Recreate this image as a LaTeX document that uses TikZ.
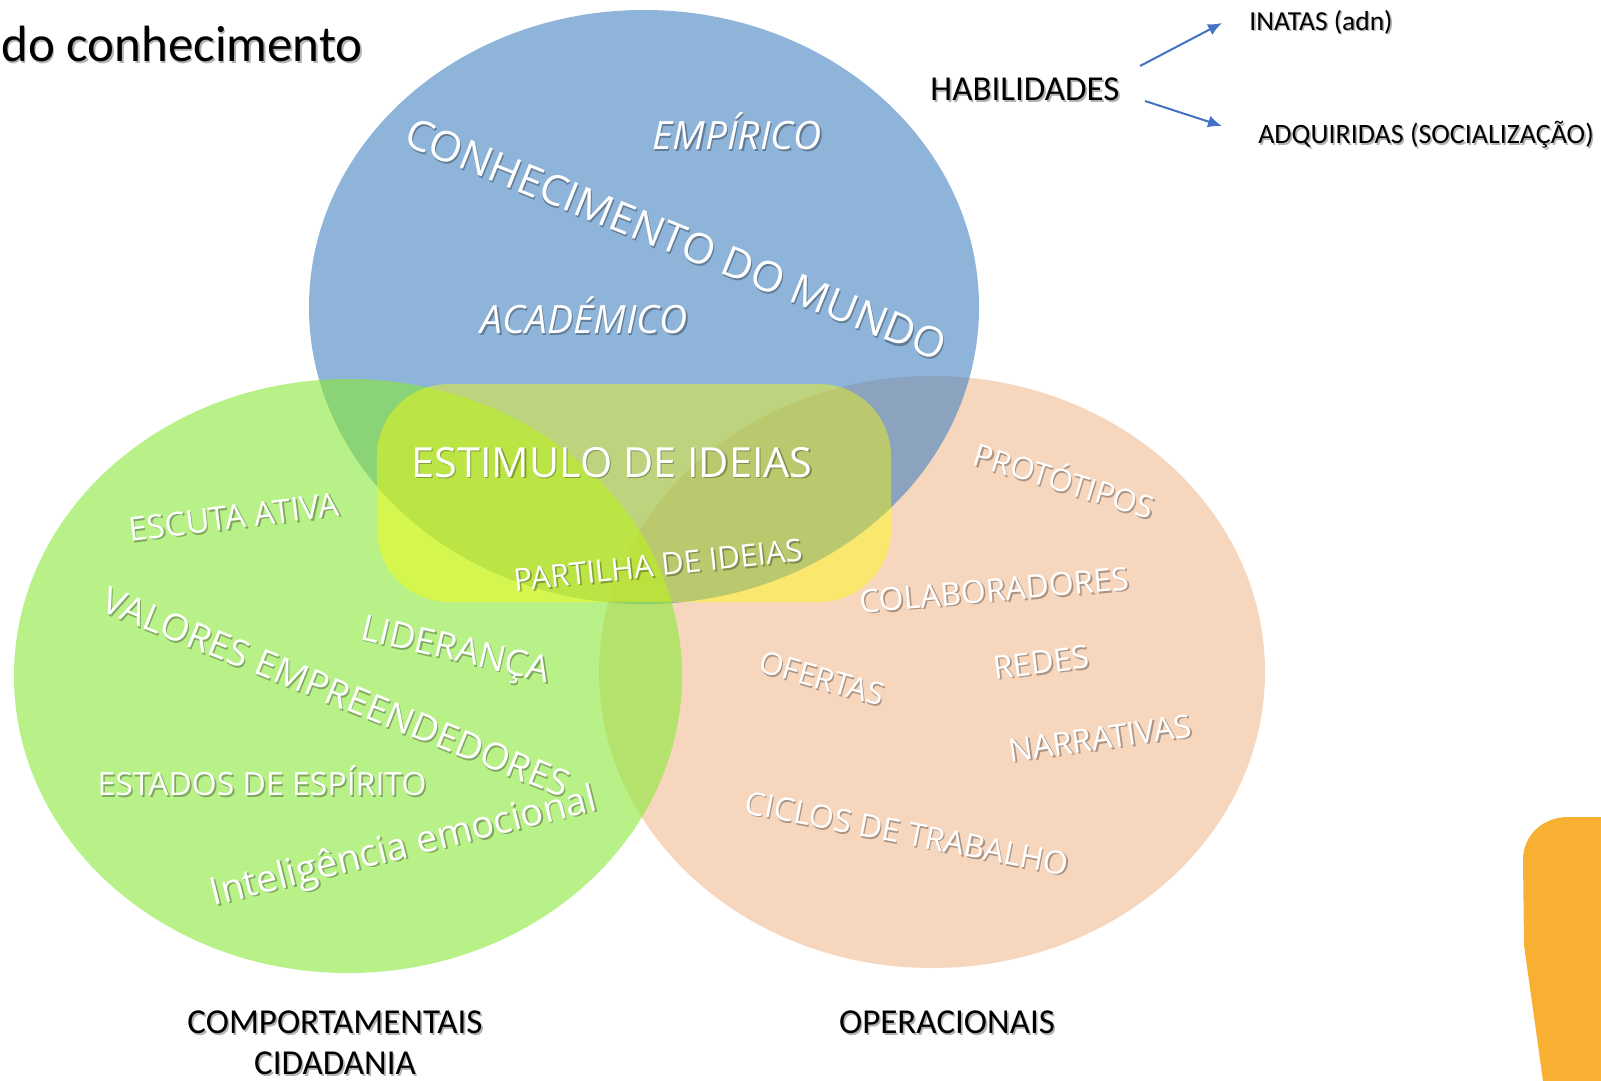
\documentclass[tikz,border=0pt]{standalone}
\usepackage{fontspec}
\setmainfont{Carlito}
\newfontfamily\osans{Open Sans}
\usetikzlibrary{arrows.meta}
\definecolor{cblue}{RGB}{68,130,192}
\definecolor{cgreen}{RGB}{138,233,55}
\definecolor{corange}{RGB}{243,187,147}
\definecolor{cyel}{RGB}{255,255,0}
\definecolor{carrow}{RGB}{68,114,196}
\definecolor{cgold}{RGB}{247,176,49}
\newcommand\fs[1]{\fontsize{#1}{#1}\selectfont}
% text with a soft drop shadow, inside one node
\newcommand\sh[1]{\rlap{\kern1.6pt\raisebox{-1.6pt}{\pgfsetfillopacity{0.3}\color{black}#1\pgfsetfillopacity{1}}}#1}
\tikzset{
  txt/.style={inner sep=0pt},
  wh/.style={txt,text=white},
  bk/.style={txt,text=black},
  arr/.style={-{Latex[length=14pt,width=12pt]}, draw=carrow, line width=2pt},
}
\begin{document}
\begin{tikzpicture}[x=1pt,y=-1pt]
\useasboundingbox (0,0) rectangle (1601,1081);
\fill[white] (0,0) rectangle (1601,1081);
% Venn shapes
\fill[corange, fill opacity=0.6] (932,672) ellipse [x radius=333, y radius=296];
\fill[cblue, fill opacity=0.6] (644,307) ellipse [x radius=335, y radius=297];
\fill[cgreen, fill opacity=0.6] (348,676) ellipse [x radius=334, y radius=297];
\fill[cyel, fill opacity=0.42, rounded corners=72pt] (377,384) rectangle (891,602);
% gold shape bottom right
\fill[cgold] (1601,817) -- (1568,817) .. controls (1543,817) and (1523,835) .. (1523,860)
  -- (1524,945) -- (1543,1081) -- (1601,1081) -- cycle;
% title
\node[bk,anchor=base east,font=\fs{51}] (title) at (363,62) {\sh{do conhecimento}};
% habilidades
\node[bk,font=\fs{35}] (hab) at (1025,90) {\sh{HABILIDADES}};
\node[bk,font=\fs{27.5}] (inatas) at (1321,23) {\sh{INATAS (adn)}};
\node[bk,font=\fs{28}] (adq) at (1426,136) {\sh{ADQUIRIDAS (SOCIALIZAÇÃO)}};
\coordinate (u1) at (1140,66);
\coordinate (u2) at (1222,23);
\coordinate (d1) at (1145,101);
\coordinate (d2) at (1222,126);
\draw[arr] (u1) -- (u2);
\draw[arr] (d1) -- (d2);
% bottom labels
\node[bk,font=\fs{35},align=center] (comp) at (335,1044) {\sh{COMPORTAMENTAIS}\\[6pt]\sh{CIDADANIA}};
\node[bk,font=\fs{35}] (oper) at (947,1023) {\sh{OPERACIONAIS}};
% blue circle texts
\node[wh,rotate=-22,font=\osans\fs{42}] (mundo) at (676,240) {\sh{CONHECIMENTO DO MUNDO}};
\node[wh,font=\osans\itshape\fs{39}] (emp) at (737,132) {\sh{EMPÍRICO}};
\node[wh,font=\osans\itshape\fs{39}] (acad) at (584,316) {\sh{ACADÉMICO}};
% centre
\node[wh,font=\osans\fs{41.5}] (estim) at (612,463) {\sh{ESTIMULO DE IDEIAS}};
\node[wh,rotate=6,font=\osans\fs{31}] (part) at (658,566) {\sh{PARTILHA DE IDEIAS}};
% green texts
\node[wh,rotate=7,font=\osans\fs{33}] (escuta) at (234,518) {\sh{ESCUTA ATIVA}};
\node[wh,rotate=-22,font=\osans\fs{37}] (valores) at (336,693) {\sh{VALORES EMPREENDEDORES}};
\node[wh,rotate=-13,font=\osans\fs{36}] (lider) at (455,653) {\sh{LIDERANÇA}};
\node[wh,font=\osans\fs{32}] (estados) at (262,782) {\sh{ESTADOS DE ESPÍRITO}};
\node[wh,rotate=14,font=\osans\fs{38}] (intel) at (404,849) {\sh{Inteligência emocional}};
% orange texts
\node[wh,rotate=-17,font=\osans\fs{31}] (proto) at (1065,479) {\sh{PROTÓTIPOS}};
\node[wh,rotate=5,font=\osans\fs{32}] (colab) at (994,591) {\sh{COLABORADORES}};
\node[wh,rotate=-16,font=\osans\fs{31}] (ofertas) at (822,679) {\sh{OFERTAS}};
\node[wh,rotate=7,font=\osans\fs{32}] (redes) at (1041,663) {\sh{REDES}};
\node[wh,rotate=8,font=\osans\fs{32}] (narr) at (1100,739) {\sh{NARRATIVAS}};
\node[wh,rotate=-11,font=\osans\fs{32}] (ciclos) at (907,834) {\sh{CICLOS DE TRABALHO}};
\end{tikzpicture}
\end{document}
